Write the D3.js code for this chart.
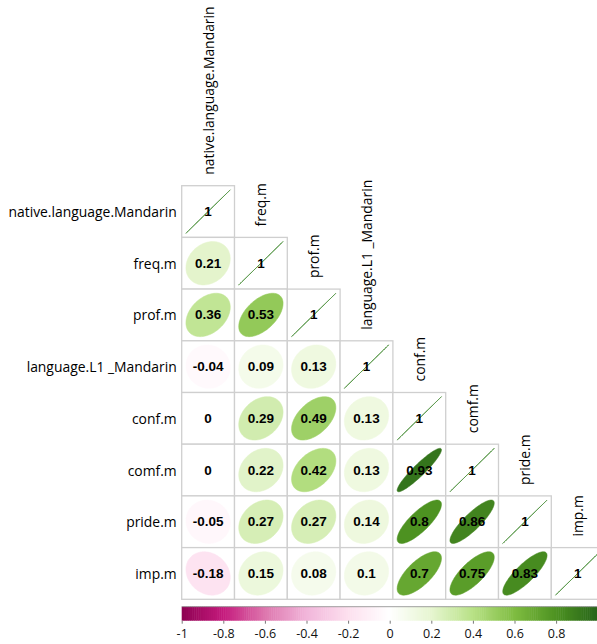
<!DOCTYPE html>
<html>
<head>
<meta charset="utf-8">
<script src="https://cdn.jsdelivr.net/npm/d3@7"></script>
<style>
  html, body { margin: 0; padding: 0; background: #fff; }
  svg { display: block; }
</style>
</head>
<body>
<svg id="chart" width="597" height="644"></svg>
<script>
// Variables in matrix order
const variables = [
  "native.language.Mandarin", "freq.m", "prof.m", "language.L1 _Mandarin",
  "conf.m", "comf.m", "pride.m", "imp.m"
];

// Lower triangle of the correlation matrix, one row per variable (incl. diagonal)
const rowNative   = [1];
const rowFreq     = [0.21, 1];
const rowProf     = [0.36, 0.53, 1];
const rowLanguage = [-0.04, 0.09, 0.13, 1];
const rowConf     = [0, 0.29, 0.49, 0.13, 1];
const rowComf     = [0, 0.22, 0.42, 0.13, 0.93, 1];
const rowPride    = [-0.05, 0.27, 0.27, 0.14, 0.8, 0.86, 1];
const rowImp      = [-0.18, 0.15, 0.08, 0.1, 0.7, 0.75, 0.83, 1];

// Colour legend
const legendTicks = [-1, -0.8, -0.6, -0.4, -0.2, 0, 0.2, 0.4, 0.6, 0.8];
const paletteColors = ["#8E0152", "#C51B7D", "#DE77AE", "#F1B6DA", "#FDE0EF", "#FFFFFF",
                       "#E6F5D0", "#B8E186", "#7FBC41", "#4D9221", "#276419"];

const rows = [rowNative, rowFreq, rowProf, rowLanguage, rowConf, rowComf, rowPride, rowImp];
const cells = [];
rows.forEach((vals, i) => vals.forEach((r, j) => cells.push({ row: variables[i], col: variables[j], i, j, r })));

const svg = d3.select("#chart");
const labelFont = "'Open Sans', 'Noto Sans', sans-serif";

const gridLeft = 181.7, cellW = 52.8;
const gridTop = 185.7, cellH = 51.7;

const x = d3.scaleBand().domain(variables).range([gridLeft, gridLeft + cellW * variables.length]);
const y = d3.scaleBand().domain(variables).range([gridTop, gridTop + cellH * variables.length]);

const color = d3.scaleLinear()
  .domain(d3.range(paletteColors.length).map(k => -1 + 2 * k / (paletteColors.length - 1)))
  .range(paletteColors)
  .interpolate(d3.interpolateRgb);

// Grid cells
svg.append("g").selectAll("rect").data(cells).join("rect")
  .attr("x", d => x(d.col))
  .attr("y", d => y(d.row))
  .attr("width", x.bandwidth())
  .attr("height", y.bandwidth())
  .attr("fill", "#fff")
  .attr("stroke", "#cfcfcf")
  .attr("stroke-width", 1.3);

// Ellipses shaped by the correlation coefficient
const ellScale = 0.84;
function ellipsePath(d) {
  const cx = x(d.col) + x.bandwidth() / 2;
  const cy = y(d.row) + y.bandwidth() / 2;
  const a = Math.acos(Math.max(-1, Math.min(1, d.r)));
  const pts = d3.range(100).map(k => {
    const t = 2 * Math.PI * k / 99;
    return [cx + ellScale * Math.cos(t + a / 2) / 2 * x.bandwidth(),
            cy - ellScale * Math.cos(t - a / 2) / 2 * y.bandwidth()];
  });
  return d3.line()(pts) + "Z";
}
svg.append("g").selectAll("path").data(cells).join("path")
  .attr("d", ellipsePath)
  .attr("fill", d => color(d.r))
  .attr("stroke", d => d.r === 1 ? "#5b9a4c" : color(d.r))
  .attr("stroke-width", d => d.r === 1 ? 1 : 0.5);

// Coefficient labels
svg.append("g").selectAll("text").data(cells).join("text")
  .attr("x", d => x(d.col) + x.bandwidth() / 2)
  .attr("y", d => y(d.row) + y.bandwidth() / 2)
  .attr("text-anchor", "middle")
  .attr("dominant-baseline", "central")
  .attr("font-family", "'Liberation Sans', Arial, sans-serif")
  .attr("font-weight", "bold")
  .attr("font-size", 13.5)
  .attr("fill", "#000")
  .text(d => String(d.r));

// Row labels
svg.append("g").selectAll("text").data(variables).join("text")
  .attr("x", gridLeft - 5)
  .attr("y", d => y(d) + y.bandwidth() / 2)
  .attr("text-anchor", "end")
  .attr("dominant-baseline", "central")
  .attr("font-family", labelFont)
  .attr("font-size", 13.9)
  .attr("fill", "#000")
  .text(d => d);

// Column labels, rotated, above each diagonal cell
svg.append("g").selectAll("text").data(variables).join("text")
  .attr("transform", d => `translate(${x(d) + x.bandwidth() / 2},${y(d) - 11}) rotate(-90)`)
  .attr("text-anchor", "start")
  .attr("dominant-baseline", "central")
  .attr("font-family", labelFont)
  .attr("font-size", 13.9)
  .attr("fill", "#000")
  .text(d => d);

// Colour legend bar
const legendX = d3.scaleLinear().domain([-1, 1]).range([181.7, 597.7]);
const legendTop = 606.7, legendH = 14;
const steps = d3.range(200).map(k => -1 + 2 * k / 200);
const stepW = (legendX(1) - legendX(-1)) / steps.length;
svg.append("g").selectAll("rect").data(steps).join("rect")
  .attr("x", d => legendX(d))
  .attr("y", legendTop)
  .attr("width", stepW + 0.5)
  .attr("height", legendH)
  .attr("fill", d => color(d + 1 / 200));
svg.append("line")
  .attr("x1", legendX(-1)).attr("x2", legendX(1))
  .attr("y1", legendTop).attr("y2", legendTop)
  .attr("stroke", "#888").attr("stroke-width", 0.8);

const axis = svg.append("g")
  .attr("transform", `translate(0,${legendTop + legendH})`)
  .call(d3.axisBottom(legendX).tickValues(legendTicks).tickSize(3).tickPadding(5)
    .tickFormat(d => String(+d.toFixed(1))));
axis.select(".domain").remove();
axis.selectAll(".tick line").attr("stroke", "#777");
axis.selectAll(".tick text")
  .attr("font-family", labelFont)
  .attr("font-size", 12.5)
  .attr("fill", "#111");
</script>
</body>
</html>
